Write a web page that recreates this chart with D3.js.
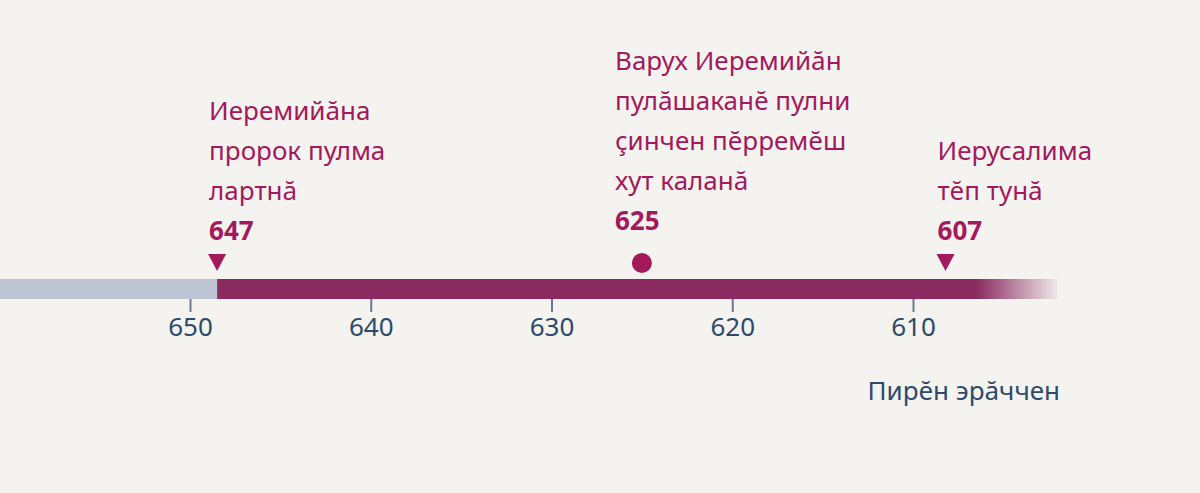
<!DOCTYPE html>
<html><head><meta charset="utf-8">
<script src="https://cdn.jsdelivr.net/npm/d3@7"></script>
<style>body{margin:0;background:#f4f3f0;}svg{display:block;font-family:"Noto Sans",sans-serif;}</style>
</head><body><svg id="c" width="1200" height="493"></svg>
<script>
const tickYears=[650,640,630,620,610];
const eventYears=[648.5,625,608.2];
const eventShapes=["tri","dot","tri"];
const eventLabels=[["Иеремийăна","пророк пулма","лартнă"],["Варух Иеремийăн","пулăшаканĕ пулни","çинчен пĕрремĕш","хут каланă"],["Иерусалима","тĕп тунă"]];
const eventYearLabels=["647","625","607"];
const barStart=661, barSplit=648.5, barFadeStart=606.5, barEnd=602;
const axisTitle="Пирĕн эрăччен";

const svg=d3.select("#c");
const x=d3.scaleLinear().domain([650,610]).range([190,913]);
const mag="#a3195b", bar="#8a2a5f", navy="#2d4a6b";
const defs=svg.append("defs");
const g=defs.append("linearGradient").attr("id","fade").attr("gradientUnits","userSpaceOnUse")
 .attr("x1",x(barFadeStart)).attr("x2",x(barEnd));
g.append("stop").attr("offset",0).attr("stop-color",bar);
g.append("stop").attr("offset",1).attr("stop-color",bar).attr("stop-opacity",0.05);
const by=279,bh=20;
svg.append("rect").attr("x",x(barStart)).attr("y",by).attr("width",x(barSplit)-x(barStart)).attr("height",bh).attr("fill","#bcc3d3");
svg.append("rect").attr("x",x(barSplit)).attr("y",by).attr("width",x(barFadeStart)-x(barSplit)+1).attr("height",bh).attr("fill",bar);
svg.append("rect").attr("x",x(barFadeStart)).attr("y",by).attr("width",x(barEnd)-x(barFadeStart)).attr("height",bh).attr("fill","url(#fade)");
const ax=svg.append("g").attr("transform",`translate(0,${by+bh})`)
 .call(d3.axisBottom(x).tickValues(tickYears).tickSize(13).tickPadding(6).tickFormat(d3.format("d")));
ax.attr("font-size",26).attr("font-family",null);
ax.select(".domain").remove();
ax.selectAll("line").attr("stroke","#6b7a90").attr("stroke-width",2);
ax.selectAll("text").attr("fill",navy);
svg.append("text").attr("x",1060).attr("y",400).attr("text-anchor","end").attr("fill",navy).attr("font-size",26).text(axisTitle);
eventYears.forEach((yr,i)=>{
  const cx=x(yr);
  if(eventShapes[i]==="tri") svg.append("path").attr("d",`M${cx-9},${254}L${cx+9},${254}L${cx},${271}Z`).attr("fill",mag);
  else svg.append("circle").attr("cx",cx).attr("cy",263).attr("r",10).attr("fill",mag);
  const lines=eventLabels[i];
  const lx=i===1?615:cx-8, yl=i===1?222:232;
  svg.append("text").attr("x",lx).attr("y",yl+8).attr("fill",mag).attr("font-size",26).attr("font-weight","bold").text(eventYearLabels[i]);
  lines.forEach((t,j)=>{
    svg.append("text").attr("x",lx).attr("y",yl-(lines.length-j)*40+8).attr("fill",mag).attr("font-size",26).text(t);
  });
});
</script></body></html>
